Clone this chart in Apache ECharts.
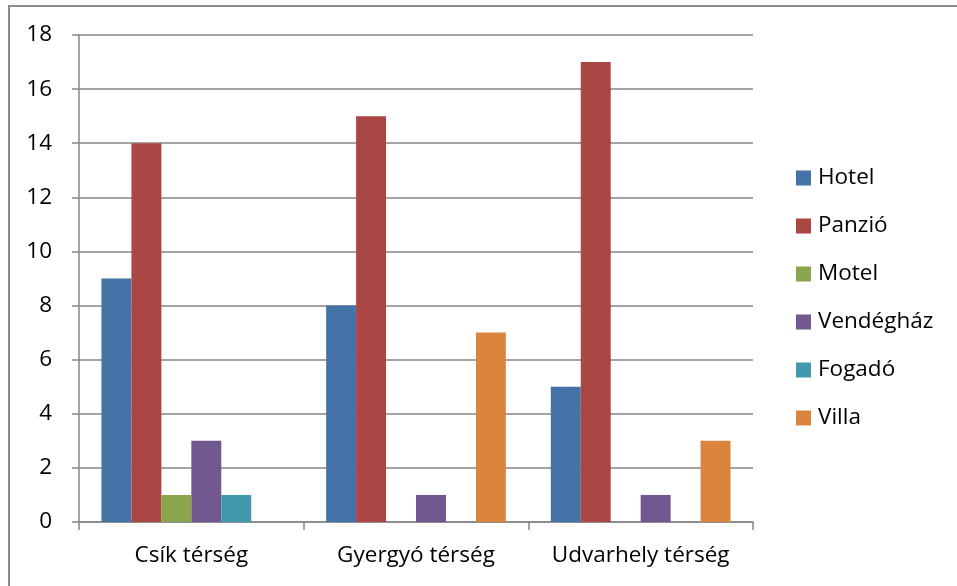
<!DOCTYPE html>
<html><head><meta charset="utf-8">
<script src="https://cdn.jsdelivr.net/npm/echarts@6/dist/echarts.min.js"></script>
<style>
html,body{margin:0;padding:0;background:#fff;overflow:hidden}
#frame{position:absolute;left:8px;top:5px;width:960px;height:600px;border:2px solid #8c8c8c;box-sizing:border-box}
#c{position:absolute;left:0;top:0;width:957px;height:586px}
</style></head><body>
<div id="frame"></div>
<div id="c"></div>
<script>
const categories = ['Csík térség', 'Gyergyó térség', 'Udvarhely térség'];
const seriesNames = ['Hotel', 'Panzió', 'Motel', 'Vendégház', 'Fogadó', 'Villa'];
const hotel = [9, 8, 5];
const panzio = [14, 15, 17];
const motel = [1, 0, 0];
const vendeghaz = [3, 1, 1];
const fogado = [1, 0, 0];
const villa = [0, 7, 3];
const colors = ['#4572A7', '#AA4643', '#89A54E', '#71588F', '#4198AF', '#DB843D'];
const values = [hotel, panzio, motel, vendeghaz, fogado, villa];
const font = '"Open Sans", sans-serif';
const fs = 22.5;

const chart = echarts.init(document.getElementById('c'));
chart.setOption({
  animation: false,
  color: colors,
  grid: { left: 79, right: 204, top: 35, bottom: 64 },
  legend: {
    orient: 'vertical', left: 791, top: 160, itemGap: 22,
    itemWidth: 15, itemHeight: 15, icon: 'rect',
    textStyle: { fontFamily: font, fontSize: fs, color: '#000', padding: [0, 0, 0, 2], lineHeight: 26 },
    data: seriesNames
  },
  xAxis: {
    type: 'category', data: categories,
    axisLine: { lineStyle: { color: '#868686', width: 1.5 } },
    axisTick: { show: true, length: 8, lineStyle: { color: '#868686', width: 1.5 } },
    axisLabel: { fontFamily: font, fontSize: fs, color: '#000', margin: 22, interval: 0 }
  },
  yAxis: {
    type: 'value', min: 0, max: 18, interval: 2,
    axisLine: { show: true, lineStyle: { color: '#868686', width: 1.5 } },
    axisTick: { show: true, length: 7, lineStyle: { color: '#868686', width: 1.5 } },
    splitLine: { lineStyle: { color: '#868686', width: 1.5 } },
    axisLabel: { fontFamily: font, fontSize: fs, color: '#000', margin: 27 }
  },
  series: seriesNames.map((n, i) => ({
    name: n, type: 'bar', data: values[i],
    barGap: '0%', barCategoryGap: '20%',
    itemStyle: { color: colors[i] }
  }))
});
</script>
</body></html>
